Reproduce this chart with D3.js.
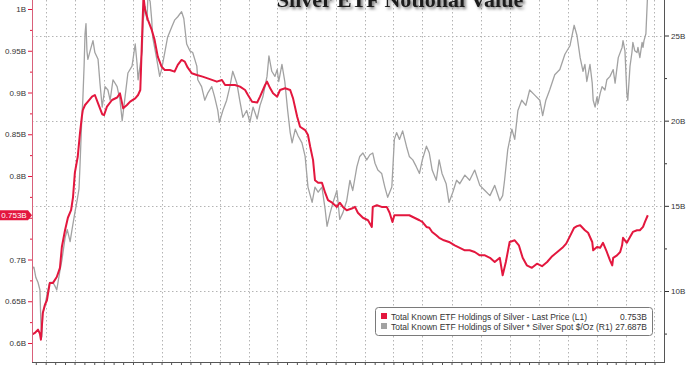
<!DOCTYPE html>
<html><head><meta charset="utf-8">
<script src="https://cdn.jsdelivr.net/npm/d3@7"></script>
<style>body{margin:0;background:#fff}svg{display:block}</style>
</head><body>
<svg id="c" width="700" height="367"></svg>
<script>
const titleText = "Silver ETF Notional Value";
const legendLabels = ["Total Known ETF Holdings of Silver - Last Price (L1)", "Total Known ETF Holdings of Silver * Silver Spot $/Oz (R1)"];
const legendValues = ["0.753B", "27.687B"];
const lastHoldingLabel = "0.753B";
const lastHolding = 0.753;
const leftMajorTicks = [0.6, 0.65, 0.7, 0.75, 0.8, 0.85, 0.9, 0.95, 1.0];
const leftHiddenLabels = [0.75];
const leftMinorTicks = [0.625, 0.675, 0.725, 0.775, 0.825, 0.875, 0.925, 0.975];
const rightMajorTicks = [10, 15, 20, 25];
const rightMinorTicks = [7.5, 12.5, 17.5, 22.5];

// Total known ETF holdings of silver (billion oz), left axis
const holdings = [
["2020-02-18",0.610],["2020-02-27",0.612],["2020-03-08",0.616],["2020-03-14",0.611],["2020-03-17",0.604],
["2020-03-23",0.636],["2020-03-29",0.645],["2020-04-05",0.651],["2020-04-14",0.672],["2020-04-24",0.672],
["2020-05-06",0.679],["2020-05-16",0.690],["2020-05-22",0.715],["2020-06-01",0.735],["2020-06-10",0.750],
["2020-06-20",0.759],["2020-06-26",0.774],["2020-07-02",0.804],["2020-07-11",0.823],["2020-07-18",0.851],
["2020-07-24",0.871],["2020-07-27",0.879],["2020-08-03",0.885],["2020-08-12",0.889],["2020-08-25",0.895],
["2020-09-03",0.897],["2020-09-13",0.887],["2020-09-26",0.874],["2020-10-02",0.873],["2020-10-11",0.883],
["2020-10-27",0.891],["2020-11-12",0.894],["2020-11-21",0.899],["2020-12-01",0.881],["2020-12-13",0.885],
["2020-12-23",0.889],["2021-01-08",0.893],["2021-01-17",0.897],["2021-01-24",0.903],["2021-01-30",0.971],
["2021-02-03",1.015],["2021-02-08",0.999],["2021-02-17",0.987],["2021-03-01",0.975],["2021-03-10",0.963],
["2021-03-20",0.943],["2021-04-01",0.931],["2021-04-11",0.927],["2021-04-27",0.927],["2021-05-12",0.925],
["2021-05-22",0.933],["2021-06-03",0.939],["2021-06-13",0.937],["2021-06-22",0.930],["2021-07-05",0.923],
["2021-07-21",0.921],["2021-08-08",0.919],["2021-08-31",0.916],["2021-09-22",0.913],["2021-10-08",0.915],
["2021-10-18",0.909],["2021-11-18",0.909],["2021-12-04",0.907],["2021-12-20",0.903],["2021-12-29",0.897],
["2022-01-11",0.889],["2022-01-27",0.888],["2022-02-05",0.895],["2022-02-21",0.909],["2022-02-27",0.913],
["2022-03-09",0.905],["2022-03-18",0.899],["2022-03-31",0.895],["2022-04-09",0.903],["2022-04-25",0.905],
["2022-05-11",0.903],["2022-05-20",0.893],["2022-06-02",0.871],["2022-06-11",0.859],["2022-06-27",0.855],
["2022-07-06",0.849],["2022-07-13",0.835],["2022-07-22",0.819],["2022-07-28",0.795],["2022-08-07",0.792],
["2022-08-19",0.792],["2022-08-29",0.780],["2022-09-07",0.771],["2022-09-20",0.768],["2022-10-05",0.763],
["2022-10-14",0.768],["2022-10-24",0.763],["2022-11-05",0.759],["2022-11-21",0.761],["2022-12-01",0.763],
["2022-12-10",0.756],["2022-12-26",0.750],["2023-01-11",0.747],["2023-01-23",0.739],["2023-01-26",0.763],
["2023-02-08",0.765],["2023-02-23",0.763],["2023-03-11",0.763],["2023-03-20",0.756],["2023-03-29",0.745],
["2023-04-04",0.753],["2023-04-20",0.753],["2023-05-06",0.753],["2023-05-21",0.753],["2023-06-06",0.750],
["2023-06-22",0.747],["2023-07-01",0.745],["2023-07-14",0.739],["2023-07-23",0.738],["2023-08-01",0.733],
["2023-08-14",0.729],["2023-08-23",0.726],["2023-09-07",0.723],["2023-09-23",0.721],["2023-10-11",0.717],
["2023-10-27",0.714],["2023-11-12",0.711],["2023-11-27",0.711],["2023-12-13",0.709],["2023-12-29",0.705],
["2024-01-14",0.705],["2024-01-30",0.702],["2024-02-14",0.697],["2024-03-01",0.702],["2024-03-10",0.681],
["2024-03-20",0.697],["2024-04-01",0.721],["2024-04-17",0.723],["2024-04-30",0.717],["2024-05-12",0.702],
["2024-05-25",0.693],["2024-06-10",0.690],["2024-06-26",0.695],["2024-07-12",0.692],["2024-07-28",0.697],
["2024-08-13",0.704],["2024-08-29",0.709],["2024-09-14",0.714],["2024-09-26",0.719],["2024-10-08",0.728],
["2024-10-21",0.738],["2024-10-30",0.740],["2024-11-09",0.741],["2024-11-24",0.735],["2024-12-04",0.732],
["2024-12-17",0.721],["2024-12-20",0.711],["2025-01-01",0.715],["2025-01-11",0.714],["2025-01-20",0.720],
["2025-02-01",0.709],["2025-02-11",0.699],["2025-02-18",0.693],["2025-02-21",0.702],["2025-03-05",0.705],
["2025-03-15",0.709],["2025-03-21",0.717],["2025-03-24",0.726],["2025-04-05",0.720],["2025-04-15",0.727],
["2025-04-24",0.733],["2025-05-07",0.735],["2025-05-16",0.735],["2025-05-26",0.739],["2025-06-01",0.745],
["2025-06-10",0.753]
];

// Holdings * silver spot (billion $), right axis
const notional = [
["2020-02-18",11.36],["2020-02-24",11.4],["2020-03-01",10.8],["2020-03-08",10.5],["2020-03-14",10.06],
["2020-03-17",8.1],["2020-03-20",7.3],["2020-03-23",8.7],["2020-03-29",9.07],["2020-04-08",10.06],
["2020-04-14",10.5],["2020-04-24",10.5],["2020-04-30",10.3],["2020-05-06",10.06],["2020-05-16",11.2],
["2020-05-22",11.8],["2020-06-01",13.1],["2020-06-08",13.6],["2020-06-17",12.9],["2020-06-23",13.6],
["2020-07-02",14.6],["2020-07-09",15.3],["2020-07-15",16.0],["2020-07-18",17.3],["2020-07-24",20.2],
["2020-07-27",21.2],["2020-07-31",23.2],["2020-08-03",25.1],["2020-08-06",25.7],["2020-08-09",24.1],
["2020-08-12",23.6],["2020-08-19",24.1],["2020-08-28",24.7],["2020-09-03",24.0],["2020-09-13",23.6],
["2020-09-19",22.2],["2020-09-26",20.8],["2020-10-05",22.0],["2020-10-14",21.8],["2020-10-21",21.2],
["2020-10-30",22.4],["2020-11-12",22.0],["2020-11-21",21.2],["2020-11-28",20.0],["2020-12-07",21.4],
["2020-12-16",22.8],["2020-12-29",23.2],["2021-01-08",24.5],["2021-01-14",23.3],["2021-01-17",22.4],
["2021-01-30",24.1],["2021-02-02",25.9],["2021-02-08",26.7],["2021-02-14",25.9],["2021-02-17",27.3],
["2021-02-24",27.0],["2021-03-01",25.9],["2021-03-04",24.9],["2021-03-16",23.7],["2021-03-26",22.6],
["2021-04-01",23.0],["2021-04-11",24.0],["2021-04-20",24.9],["2021-05-03",25.5],["2021-05-12",25.9],
["2021-05-22",26.1],["2021-06-03",26.4],["2021-06-10",26.0],["2021-06-19",24.5],["2021-06-29",24.1],
["2021-07-08",24.0],["2021-07-21",23.2],["2021-07-24",22.4],["2021-08-05",22.0],["2021-08-15",21.2],
["2021-08-24",21.6],["2021-09-06",22.0],["2021-09-15",21.4],["2021-09-25",20.6],["2021-09-30",19.9],
["2021-10-11",20.6],["2021-10-23",21.2],["2021-11-02",22.0],["2021-11-11",22.9],["2021-11-24",22.2],
["2021-12-03",21.2],["2021-12-13",20.2],["2021-12-25",20.6],["2022-01-04",19.9],["2022-01-14",20.8],
["2022-01-27",20.1],["2022-02-05",20.9],["2022-02-14",21.4],["2022-02-27",22.6],["2022-03-05",23.8],
["2022-03-14",22.9],["2022-03-24",22.6],["2022-03-31",23.0],["2022-04-05",22.3],["2022-04-15",23.3],
["2022-04-24",22.3],["2022-05-03",20.6],["2022-05-11",19.3],["2022-05-17",18.7],["2022-05-27",19.5],
["2022-06-05",19.1],["2022-06-17",18.7],["2022-06-27",17.9],["2022-07-06",16.1],["2022-07-19",15.2],
["2022-07-28",16.1],["2022-08-07",15.8],["2022-08-19",16.1],["2022-08-29",14.8],["2022-09-04",13.8],
["2022-09-14",14.6],["2022-09-23",15.2],["2022-10-05",15.9],["2022-10-14",14.2],["2022-10-24",14.6],
["2022-11-05",15.3],["2022-11-15",16.5],["2022-11-24",15.9],["2022-12-07",17.3],["2022-12-16",17.9],
["2022-12-26",18.1],["2023-01-07",17.7],["2023-01-17",18.0],["2023-01-26",18.1],["2023-02-02",17.5],
["2023-02-11",17.1],["2023-02-23",16.9],["2023-03-05",16.1],["2023-03-14",15.5],["2023-03-27",16.1],
["2023-04-04",18.9],["2023-04-11",19.3],["2023-04-20",18.9],["2023-04-30",19.4],["2023-05-12",18.5],
["2023-05-21",17.9],["2023-06-01",17.7],["2023-06-12",17.3],["2023-06-22",16.9],["2023-07-01",17.7],
["2023-07-14",18.5],["2023-07-23",18.1],["2023-08-01",17.1],["2023-08-14",16.5],["2023-08-23",17.7],
["2023-09-01",16.9],["2023-09-14",16.3],["2023-09-23",15.2],["2023-10-05",15.8],["2023-10-17",16.5],
["2023-10-27",16.3],["2023-11-12",16.8],["2023-11-27",16.5],["2023-12-13",17.1],["2023-12-29",16.2],
["2024-01-14",15.9],["2024-01-30",15.6],["2024-02-14",16.2],["2024-03-01",15.3],["2024-03-10",15.6],
["2024-03-16",16.5],["2024-03-26",18.3],["2024-04-08",19.5],["2024-04-17",18.9],["2024-04-27",20.6],
["2024-05-09",21.2],["2024-05-22",20.9],["2024-06-03",21.8],["2024-06-19",21.5],["2024-07-05",21.2],
["2024-07-14",20.3],["2024-07-24",21.2],["2024-08-05",21.8],["2024-08-21",22.7],["2024-09-06",23.0],
["2024-09-22",23.9],["2024-10-08",24.4],["2024-10-21",25.6],["2024-10-30",25.0],["2024-11-09",23.7],
["2024-11-18",22.9],["2024-11-24",23.3],["2024-11-30",22.3],["2024-12-10",23.3],["2024-12-17",22.2],
["2024-12-20",21.2],["2024-12-26",20.8],["2025-01-01",21.4],["2025-01-04",21.0],["2025-01-11",21.6],
["2025-01-17",22.0],["2025-01-26",21.8],["2025-02-01",22.4],["2025-02-11",22.6],["2025-02-21",23.0],
["2025-02-27",22.2],["2025-03-09",23.7],["2025-03-21",24.3],["2025-03-24",24.7],["2025-03-30",24.1],
["2025-04-05",21.6],["2025-04-08",21.2],["2025-04-15",23.2],["2025-04-21",24.0],["2025-04-24",24.6],
["2025-04-30",24.1],["2025-05-07",24.0],["2025-05-10",24.3],["2025-05-16",23.7],["2025-05-23",24.6],
["2025-05-26",24.3],["2025-05-29",24.7],["2025-06-04",25.1],["2025-06-10",27.687]
];

const parse = d3.timeParse("%Y-%m-%d");
const red = "#e3173e", grey = "#a2a2a2";
const font = "'Liberation Sans', Arial, sans-serif";
const svg = d3.select("#c");
const L = 32, R = 664, B = 362;

const x = d3.scaleTime().domain([parse("2020-02-18"), parse("2025-07-31")]).range([L, R]);
const yL = d3.scaleLinear().domain([0.6, 1.0]).range([343, 9]);
const yR = d3.scaleLinear().domain([10, 25]).range([291, 35.5]);

const defs = svg.append("defs");
defs.append("clipPath").attr("id", "plot").append("rect")
  .attr("x", L).attr("y", -100).attr("width", R - L).attr("height", B + 100);
const f = defs.append("filter").attr("id", "sh").attr("x", "-10%").attr("y", "-50%").attr("width", "120%").attr("height", "200%");
f.append("feDropShadow").attr("dx", 2).attr("dy", 2).attr("stdDeviation", 1.6)
  .attr("flood-color", "#000").attr("flood-opacity", 0.55);

// grid
const quarters = x.ticks(d3.timeMonth.every(3)).filter(d => d.getMonth() % 3 === 0);
svg.append("g").selectAll("line").data(quarters).join("line")
  .attr("x1", d => Math.round(x(d)) + 0.5).attr("x2", d => Math.round(x(d)) + 0.5)
  .attr("y1", 0).attr("y2", B)
  .attr("stroke", "#b4b4b4").attr("stroke-width", 1).attr("stroke-dasharray", "1.5,2.5");
svg.append("g").selectAll("line").data(rightMajorTicks).join("line")
  .attr("x1", L).attr("x2", R)
  .attr("y1", d => Math.round(yR(d)) + 0.5).attr("y2", d => Math.round(yR(d)) + 0.5)
  .attr("stroke", "#b4b4b4").attr("stroke-width", 1).attr("stroke-dasharray", "1.5,2.5");

// title
svg.append("text").attr("x", 400).attr("y", 7).attr("text-anchor", "middle")
  .attr("font-family", "'Liberation Serif','Times New Roman',serif").attr("font-weight", "bold")
  .attr("font-size", 22).attr("fill", "#1a1a1a").attr("filter", "url(#sh)").text(titleText);

// lines
const gLines = svg.append("g").attr("clip-path", "url(#plot)");
gLines.append("path").datum(notional)
  .attr("d", d3.line().x(d => x(parse(d[0]))).y(d => yR(d[1])))
  .attr("fill", "none").attr("stroke", grey).attr("stroke-width", 1.3).attr("stroke-linejoin", "round");
gLines.append("path").datum(holdings)
  .attr("d", d3.line().x(d => x(parse(d[0]))).y(d => yL(d[1])))
  .attr("fill", "none").attr("stroke", red).attr("stroke-width", 2).attr("stroke-linejoin", "round");

// axes lines
svg.append("line").attr("x1", L + 0.5).attr("x2", L + 0.5).attr("y1", 0).attr("y2", B).attr("stroke", "#d9607a");
svg.append("line").attr("x1", R + 0.5).attr("x2", R + 0.5).attr("y1", 0).attr("y2", B + 0.5).attr("stroke", "#555");
svg.append("line").attr("x1", L).attr("x2", R + 1).attr("y1", B + 0.5).attr("y2", B + 0.5).attr("stroke", "#555");

// bottom ticks (monthly)
const months = x.ticks(d3.timeMonth.every(1));
const gx = svg.append("g").attr("transform", `translate(0,${B})`)
  .call(d3.axisBottom(x).tickValues(months).tickSize(3).tickFormat(""));
gx.select(".domain").remove();
gx.selectAll("line").attr("stroke", "#555");

// left axis
const gl = svg.append("g").attr("transform", `translate(${L},0)`)
  .call(d3.axisLeft(yL).tickValues(leftMajorTicks).tickSize(4).tickPadding(2)
    .tickFormat(d => leftHiddenLabels.includes(d) ? "" : (d3.format("~g")(d) + "B")));
gl.select(".domain").remove();
gl.selectAll("line").attr("stroke", red);
gl.selectAll("text").attr("font-family", font).attr("font-size", 8).attr("fill", "#333");
const glm = svg.append("g").attr("transform", `translate(${L},0)`)
  .call(d3.axisLeft(yL).tickValues(leftMinorTicks).tickSize(2).tickFormat(""));
glm.select(".domain").remove();
glm.selectAll("line").attr("stroke", red);

// right axis
const gr = svg.append("g").attr("transform", `translate(${R + 1},0)`)
  .call(d3.axisRight(yR).tickValues(rightMajorTicks).tickSize(4).tickPadding(2)
    .tickFormat(d => d + "B"));
gr.select(".domain").remove();
gr.selectAll("line").attr("stroke", "#333");
gr.selectAll("text").attr("font-family", font).attr("font-size", 8).attr("fill", "#333");
const grm = svg.append("g").attr("transform", `translate(${R + 1},0)`)
  .call(d3.axisRight(yR).tickValues(rightMinorTicks).tickSize(2).tickFormat(""));
grm.select(".domain").remove();
grm.selectAll("line").attr("stroke", "#333");

// last value tag
const ty = yL(lastHolding);
svg.append("path").attr("d", `M0,${ty - 5}L28,${ty - 5}L32,${ty}L28,${ty + 5}L0,${ty + 5}Z`).attr("fill", red);
svg.append("text").attr("x", 14).attr("y", ty + 3).attr("text-anchor", "middle")
  .attr("font-family", font).attr("font-size", 8).attr("fill", "#fff").text(lastHoldingLabel);

// legend
const lg = svg.append("g");
lg.append("rect").attr("x", 375.5).attr("y", 307.5).attr("width", 277).attr("height", 28).attr("rx", 3)
  .attr("fill", "#fff").attr("stroke", "#7a7a7a");
[red, grey].forEach((c, i) => {
  lg.append("rect").attr("x", 381).attr("y", 313 + i * 10).attr("width", 6).attr("height", 6).attr("fill", c);
  lg.append("text").attr("x", 391).attr("y", 319.5 + i * 10).attr("font-family", font).attr("font-size", 8.5)
    .attr("fill", "#333").text(legendLabels[i]);
  lg.append("text").attr("x", 647).attr("y", 319.5 + i * 10).attr("text-anchor", "end").attr("font-family", font)
    .attr("font-size", 8.5).attr("fill", "#333").text(legendValues[i]);
});
</script>
</body></html>
